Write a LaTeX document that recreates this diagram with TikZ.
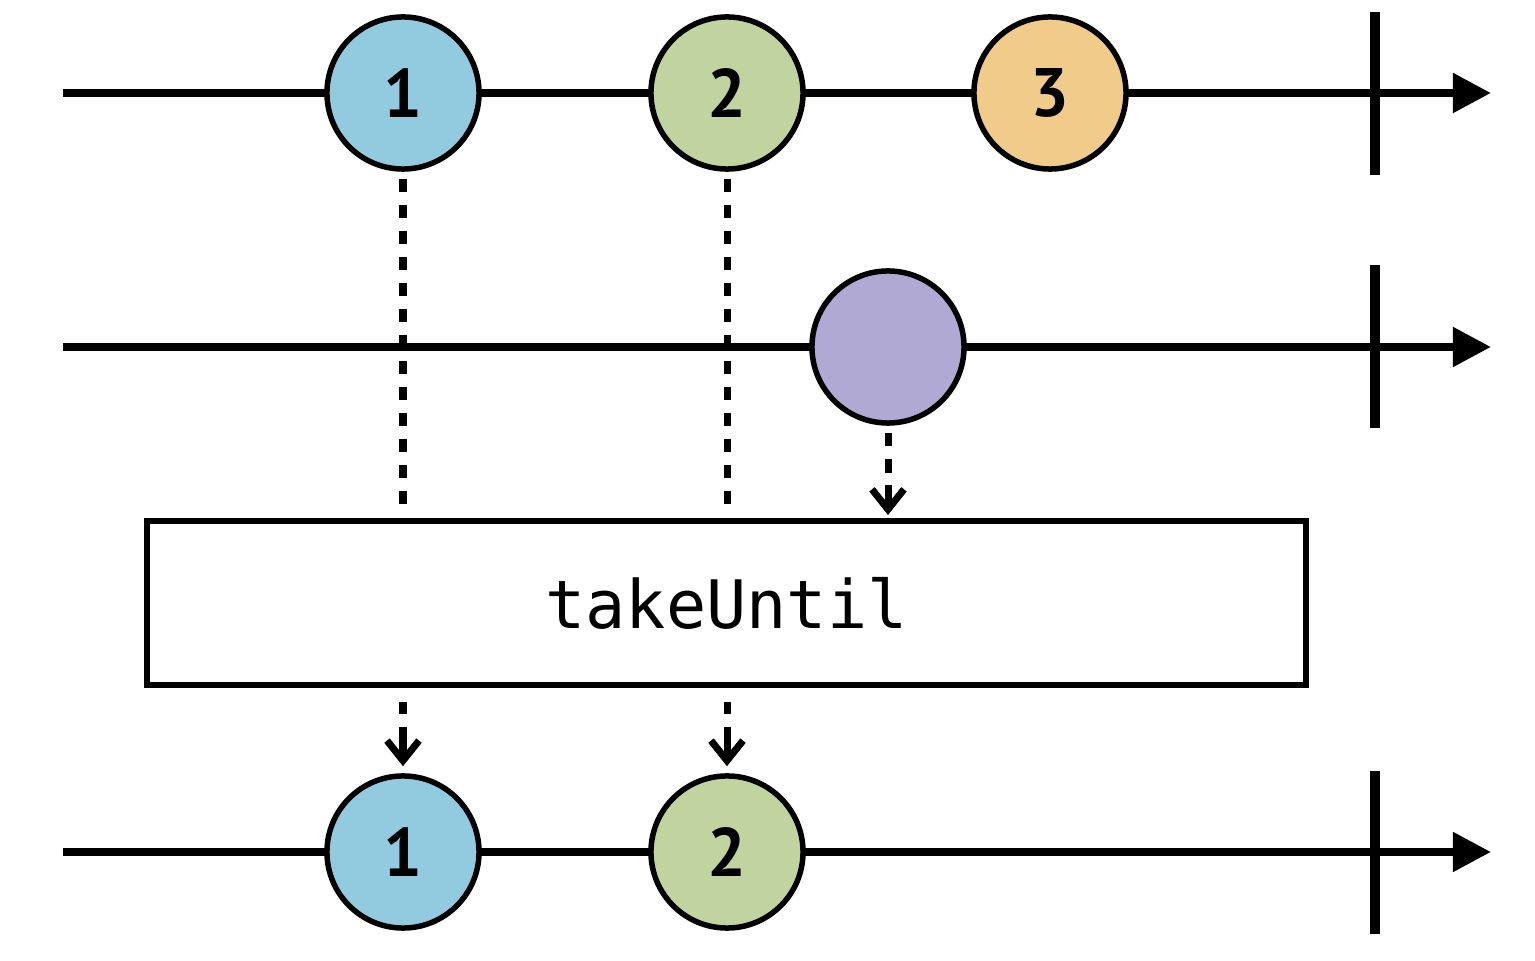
\documentclass[tikz,border=0pt]{standalone}
\usepackage{fontspec}
\setmainfont{PT Sans}
\newfontfamily\codefont{DejaVu Sans Mono}
\usetikzlibrary{arrows.meta}
\definecolor{mblue}{RGB}{146,203,223}
\definecolor{mgreen}{RGB}{193,212,160}
\definecolor{morange}{RGB}{240,203,138}
\definecolor{mpurple}{RGB}{175,169,212}
\tikzset{
  timeline/.style={line width=0.08cm, -{Triangle[length=0.38cm,width=0.38cm]}},
  endtick/.style={line width=0.1cm},
  marble/.style={circle, draw, line width=0.055cm, minimum size=1.52cm, inner sep=0pt,
    font=\bfseries\fontsize{19.5}{20}\selectfont},
  dashline/.style={line width=0.07cm, dash pattern=on 0.13cm off 0.13cm},
  dasharrow/.style={line width=0.07cm, -{Straight Barb[length=0.2cm,width=0.32cm]}},
  longarrow/.style={dasharrow, dash pattern=on 0.13cm off 0.13cm on 0.14cm off 0.12cm on 0.6cm},
  shortarrow/.style={dasharrow, dash pattern=on 0.12cm off 0.13cm on 0.6cm},
  opbox/.style={draw, line width=0.06cm, minimum width=11.59cm, minimum height=1.635cm,
    inner sep=0pt, font=\codefont\fontsize{19}{20}\selectfont}
}
\begin{document}
\begin{tikzpicture}[x=0.01cm,y=-0.01cm]
\useasboundingbox (0,0) rectangle (1535,961);
% timeline coordinates
\coordinate (a1) at (63,93);  \coordinate (b1) at (1491,93);
\coordinate (a2) at (63,347); \coordinate (b2) at (1491,347);
\coordinate (a3) at (63,852); \coordinate (b3) at (1491,852);
\coordinate (t1a) at (1375,12);  \coordinate (t1b) at (1375,175);
\coordinate (t2a) at (1375,265); \coordinate (t2b) at (1375,428);
\coordinate (t3a) at (1375,771); \coordinate (t3b) at (1375,934);
% timelines
\draw[timeline] (a1) -- (b1);
\draw[timeline] (a2) -- (b2);
\draw[timeline] (a3) -- (b3);
\draw[endtick] (t1a) -- (t1b);
\draw[endtick] (t2a) -- (t2b);
\draw[endtick] (t3a) -- (t3b);
% marbles
\node[marble, fill=mblue]   (c1) at (403,93)  {1};
\node[marble, fill=mgreen]  (c2) at (727,93)  {2};
\node[marble, fill=morange] (c3) at (1050,93) {3};
\node[marble, fill=mpurple] (p)  at (888,347) {};
\node[marble, fill=mblue]   (o1) at (403,852) {1};
\node[marble, fill=mgreen]  (o2) at (727,852) {2};
% operator box
\node[opbox] (box) at (726.5,603.25) {takeUntil};
% connectors
\draw[dashline, shorten <=0.07cm, shorten >=0.135cm] (c1.south) -- (c1.south |- box.north);
\draw[dashline, shorten <=0.07cm, shorten >=0.135cm] (c2.south) -- (c2.south |- box.north);
\draw[longarrow, shorten <=0.07cm, shorten >=0.035cm] (p.south) -- (p.south |- box.north);
\draw[shortarrow, shorten <=0.14cm, shorten >=0.07cm] (o1.north |- box.south) -- (o1.north);
\draw[shortarrow, shorten <=0.14cm, shorten >=0.07cm] (o2.north |- box.south) -- (o2.north);
\end{tikzpicture}
\end{document}
